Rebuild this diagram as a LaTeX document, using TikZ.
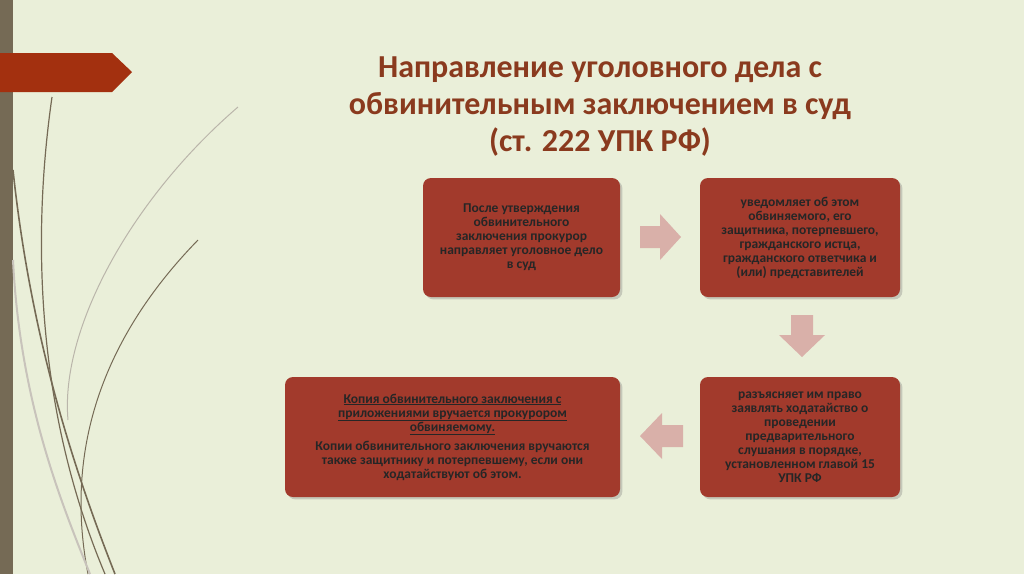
\documentclass[tikz,border=0pt]{standalone}
\usepackage{fontspec}
\setmainfont{Carlito}
\usetikzlibrary{shadows}
\begin{document}
\begin{tikzpicture}[x=1pt,y=-1pt,
  box/.style={rounded corners=8pt,fill=boxred,draw=none,align=center,font=\fontsize{13.5}{14}\selectfont\bfseries,text=black!85,drop shadow={opacity=0.35}},
  arr/.style={fill=arrpink,draw=none}]
\definecolor{bg}{HTML}{EAEFD9}
\definecolor{boxred}{HTML}{A23A2C}
\definecolor{arrpink}{HTML}{D9B0A9}
\definecolor{titlec}{HTML}{8A3A1E}
\definecolor{stem}{HTML}{756A55}
\definecolor{tag}{HTML}{A3300F}
\fill[bg] (0,0) rectangle (1024,574);
\useasboundingbox (0,0) rectangle (1024,574);
\fill[stem] (0,0) rectangle (13,574);
\fill[tag] (0,53) -- (112,53) -- (132,72) -- (112,92) -- (0,92) -- cycle;
% grass curves
\draw[stem,line width=1.6pt] (13,170) .. controls (30,330) and (70,460) .. (115,574);
\draw[stem,line width=1.2pt] (52,97) .. controls (30,250) and (40,420) .. (105,574);
\draw[stem,line width=1pt] (198,240) .. controls (120,320) and (60,430) .. (88,574);
\draw[stem!50,line width=1pt] (238,107) .. controls (130,200) and (60,330) .. (68,420);
\draw[stem!40,line width=2pt] (13,260) .. controls (20,400) and (60,500) .. (90,574);
\node[font=\fontsize{32}{37}\selectfont\bfseries,text=titlec,align=center] (title) at (600,107) {Направление уголовного дела с\\обвинительным заключением в суд\\(ст. 222 УПК РФ)};
\node[box,minimum width=197,minimum height=119] (b1) at (521.5,237.5) {После утверждения\\обвинительного\\заключения прокурор\\направляет уголовное дело\\в суд};
\node[box,minimum width=200,minimum height=119] (b2) at (800,237.5) {уведомляет об этом\\обвиняемого, его\\защитника, потерпевшего,\\гражданского истца,\\гражданского ответчика и\\(или) представителей};
\node[box,minimum width=200,minimum height=120] (b3) at (800,437) {разъясняет им право\\заявлять ходатайство о\\проведении\\предварительного\\слушания в порядке,\\установленном главой 15\\УПК РФ};
\node[box,minimum width=335,minimum height=120] (b4) at (452.5,437) {\underline{Копия обвинительного заключения с}\\\underline{приложениями вручается прокурором}\\\underline{обвиняемому.}\\[5pt]Копии обвинительного заключения вручаются\\также защитнику и потерпевшему, если они\\ходатайствуют об этом.};
\fill[arr] (640,226) -- (660,226) -- (660,214) -- (681,237) -- (660,260) -- (660,248) -- (640,248) -- cycle;
\fill[arr] (791,315) -- (813,315) -- (813,335) -- (825,335) -- (802,357) -- (779,335) -- (791,335) -- cycle;
\fill[arr] (683,425) -- (662,425) -- (662,413) -- (640,436) -- (662,459) -- (662,447) -- (683,447) -- cycle;
\end{tikzpicture}
\end{document}
